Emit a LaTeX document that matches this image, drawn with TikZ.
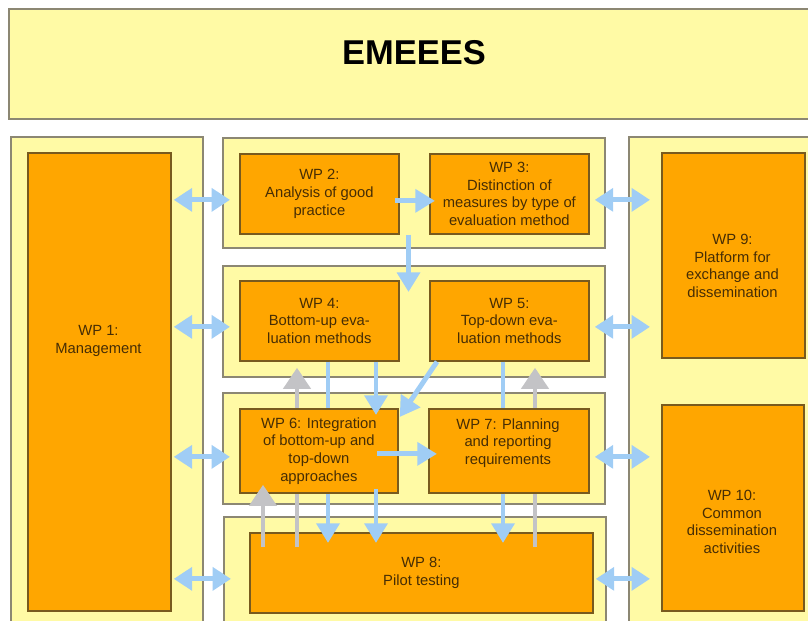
\documentclass[tikz,border=0pt]{standalone}
\usepackage{fontspec}
\setmainfont{Liberation Sans}
\usetikzlibrary{arrows.meta,calc}

\definecolor{amarillo}{RGB}{255,250,165}
\definecolor{bordeamarillo}{RGB}{140,135,115}
\definecolor{naranja}{RGB}{255,166,0}
\definecolor{bordenaranja}{RGB}{120,90,30}
\definecolor{textowp}{RGB}{70,45,5}
\definecolor{azulflecha}{RGB}{160,205,245}
\definecolor{grisflecha}{RGB}{195,195,198}

\tikzset{
  panel/.style={draw=bordeamarillo, fill=amarillo, line width=1.2pt, anchor=north west, inner sep=0pt},
  wp/.style={draw=bordenaranja, fill=naranja, line width=1.2pt, anchor=north west, inner sep=0pt,
    align=center, text=textowp, font=\fontsize{10.5}{12.5}\selectfont},
  wptexto/.style={align=center, text=textowp, font=\fontsize{10.5}{12.5}\selectfont},
  flechaazul/.style={draw=azulflecha, line width=3.5pt, -{Triangle[width=16pt,length=14pt]}},
  flechagris/.style={draw=grisflecha, line width=3.5pt, -{Triangle[width=19pt,length=15pt]}},
  flechadoble/.style={draw=azulflecha, line width=3.5pt,
    {Triangle[width=16pt,length=13pt]}-{Triangle[width=16pt,length=13pt]}},
  lineaazul/.style={draw=azulflecha, line width=3.5pt},
  lineagris/.style={draw=grisflecha, line width=3.5pt}
}

\begin{document}
\begin{tikzpicture}[x=0.025cm, y=-0.025cm]
          \useasboundingbox (0,0) rectangle (808,620);
          \clip (0,0) rectangle (808,620);

          % Marco del titulo
          \node[panel, minimum width=20.55cm, minimum height=2.75cm] (titulo) at (8,8) {};
          \node[font=\fontsize{24.5}{29}\selectfont\bfseries] (emeees) at (414,53) {EMEEES};

          % Columnas y filas
          \node[panel, minimum width=4.8cm, minimum height=12.6cm] (izq) at (10,136) {};
          \node[panel, minimum width=5.05cm, minimum height=12.6cm] (der) at (628,136) {};
          \node[panel, minimum width=9.55cm, minimum height=2.75cm] (f1) at (222,137) {};
          \node[panel, minimum width=9.55cm, minimum height=2.775cm] (f2) at (222,265) {};
          \node[panel, minimum width=9.55cm, minimum height=2.775cm] (f3) at (222,392) {};
          \node[panel, minimum width=9.55cm, minimum height=3.1cm] (f4) at (223,516) {};

          % Paquetes de trabajo
          \node[wp, minimum width=3.575cm, minimum height=11.45cm] (WP1) at (27,152) {};
          \node[wptexto] (WP1txt) at (98.5,341) {WP 1:\\Management};
          \node[wp, minimum width=3.975cm, minimum height=2cm] (WP2) at (239,153) {WP 2:\\Analysis of good\\practice};
          \node[wp, minimum width=3.975cm, minimum height=2cm] (WP3) at (429,153) {WP 3:\\Distinction of\\measures by type of\\evaluation method};
          \node[wp, minimum width=3.975cm, minimum height=2cm] (WP4) at (239,280) {WP 4:\\Bottom-up eva-\\luation methods};
          \node[wp, minimum width=3.975cm, minimum height=2cm] (WP5) at (429,280) {WP 5:\\Top-down eva-\\luation methods};
          \node[wp, minimum width=3.95cm, minimum height=2.1cm] (WP6) at (239,408) {WP 6: Integration\\of bottom-up and\\top-down\\approaches};
          \node[wp, minimum width=4cm, minimum height=2.1cm] (WP7) at (428,408) {};
          \node[wptexto] (WP7txt) at (508,443) {WP 7: Planning\\and reporting\\requirements};
          \node[wp, minimum width=8.575cm, minimum height=2cm] (WP8) at (249,532) {WP 8:\\Pilot testing};
          \node[wp, minimum width=3.575cm, minimum height=5.125cm] (WP9) at (661,152) {};
          \node[wptexto] (WP9txt) at (732.5,266) {WP 9:\\Platform for\\exchange and\\dissemination};
          \node[wp, minimum width=3.55cm, minimum height=5.15cm] (WP10) at (661,404) {};
          \node[wptexto] (WP10txt) at (732,522) {WP 10:\\Common\\dissemination\\activities};

          % Flechas dobles hacia WP 1 y hacia WP 9 / WP 10
          \foreach \fila/\caja/\destino in {f1/WP2/WP9, f2/WP4/WP9, f3/WP6/WP10, f4/WP8/WP10}{
            \draw[flechadoble] ($(WP1.east |- \caja.west)+(2,6)$) -- ($(\fila.west |- \caja.west)+(8,6)$);
            \draw[flechadoble] ($(\fila.east |- \caja.west)+(-11,6)$) -- ($(\destino.west |- \caja.west)+(-11,6)$);
          }

          % Flechas de la primera fila
          \draw[flechaazul] ($(WP2.east)+(-5,7)$) -- ($(WP3.west)+(6,7)$);
          \coordinate (hueco) at ($(WP2.south east)!0.3!(WP3.south west)$);
          \draw[flechaazul] (hueco) -- ($(hueco |- WP4.north)+(0,12)$);

          % Flechas azules hacia WP 6, WP 7 y WP 8
          \coordinate (a1) at ($(WP4.south west)+(89,0)$);
          \coordinate (a2) at ($(WP4.south west)+(137,0)$);
          \coordinate (a3) at ($(WP5.south west)+(74,0)$);
          \draw[lineaazul] (a1) -- (a1 |- WP6.north);
          \draw[flechaazul] (a1 |- WP6.south) -- ($(a1 |- WP8.north)+(0,11)$);
          \draw[flechaazul] (a2) -- ($(a2 |- WP6.north)+(0,7)$);
          \draw[flechaazul] ($(a2 |- WP6.south)+(0,-5)$) -- ($(a2 |- WP8.north)+(0,11)$);
          \draw[flechaazul] ($(WP5.south west)+(8,0)$) -- ($(WP6.north east)+(1,9)$);
          \draw[lineaazul] (a3) -- (a3 |- WP7.north);
          \draw[flechaazul] (a3 |- WP7.south) -- ($(a3 |- WP8.north)+(0,11)$);
          \draw[flechaazul] ($(WP6.west)+(138,3)$) -- ($(WP7.west)+(9,3)$);

          % Flechas grises hacia arriba
          \coordinate (g1) at ($(WP4.south west)+(58,0)$);
          \coordinate (g2) at ($(WP5.south west)+(106,0)$);
          \draw[flechagris] (g1 |- WP6.north) -- ($(g1)+(0,6)$);
          \draw[lineagris] ($(g1 |- WP8.north)+(0,15)$) -- (g1 |- WP6.south);
          \draw[flechagris] ($(WP8.north west)+(14,15)$) -- ($(WP6.south west)+(24,-9)$);
          \draw[flechagris] (g2 |- WP7.north) -- ($(g2)+(0,6)$);
          \draw[lineagris] ($(g2 |- WP8.north)+(0,15)$) -- (g2 |- WP7.south);
\end{tikzpicture}
\end{document}
